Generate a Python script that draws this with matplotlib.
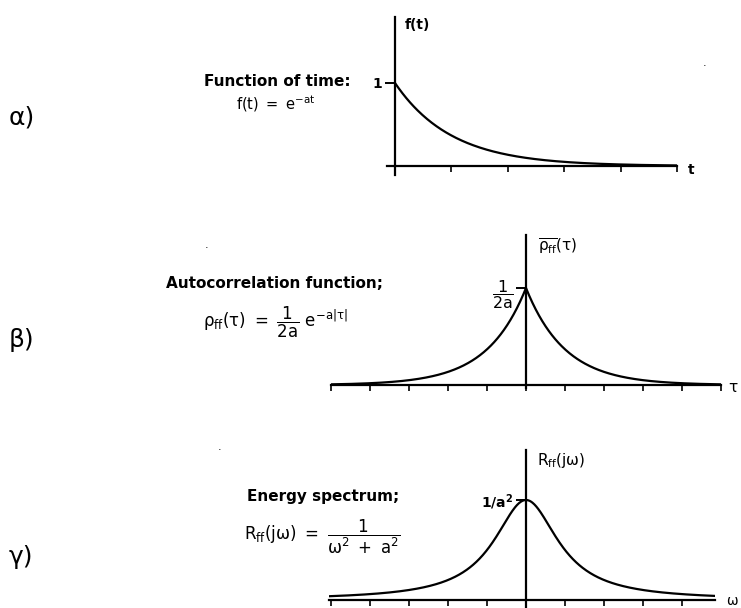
import numpy as np
import matplotlib.pyplot as plt

plt.rcParams['font.family'] = ['DejaVu Sans']
plt.rcParams['mathtext.fontset'] = 'dejavusans'
plt.rcParams['mathtext.default'] = 'regular'

W, H = 741, 608

# decay constant used in all three functions
a = 1.0

# time axis for f(t), lag axis for the autocorrelation, frequency axis for the spectrum
t = np.linspace(0, 5, 300)
tau = np.linspace(-5, 5, 601)
omega = np.linspace(-5.05, 4.85, 601)

f_t = np.exp(-a * t)
rho = np.exp(-a * np.abs(tau)) / (2 * a)
R = 1.0 / (omega ** 2 + a ** 2)

panel_letters = ['α)', 'β)', 'γ)']
x_names = ['t', 'τ', 'ω']
peak_labels = ['1', r'$\dfrac{1}{2a}$', r'$1/a^2$']
y_names = ['f(t)', r'$\overline{\rho_{ff}}(\tau)$', r'$R_{ff}(j\omega)$']

fig = plt.figure(figsize=(W / 100, H / 100), dpi=100)


def px(x, y):
    return x / W, 1 - y / H


def make_axes(origin, scale, xlim, ylim):
    # place an axes so that data (0, 0) sits at pixel `origin`
    ox, oy = origin
    sx, sy = scale
    x0 = ox + xlim[0] * sx
    x1 = ox + xlim[1] * sx
    y_top = oy - ylim[1] * sy
    y_bot = oy - ylim[0] * sy
    ax = fig.add_axes([x0 / W, 1 - y_bot / H, (x1 - x0) / W, (y_bot - y_top) / H])
    ax.set_xlim(xlim)
    ax.set_ylim(ylim)
    ax.patch.set_alpha(0)
    for side in ['top', 'right']:
        ax.spines[side].set_visible(False)
    ax.spines['left'].set_position(('data', 0))
    ax.spines['bottom'].set_position(('data', 0))
    for side in ['left', 'bottom']:
        ax.spines[side].set_linewidth(1.6)
    ax.tick_params(axis='x', direction='out', length=4.5, width=1.2, labelbottom=False)
    ax.tick_params(axis='y', direction='out', length=7, width=1.4, pad=2,
                   labelsize=10)
    return ax


ax1 = make_axes((395, 166), (56.4, 83), (-0.14, 5.0), (-0.11, 1.8))
ax1.plot(t, f_t, color='black', lw=1.6)
ax1.set_xticks(np.arange(0, 6))
ax1.set_yticks([1.0], [peak_labels[0]], fontweight='bold')

ax2 = make_axes((526, 385), (39, 194), (-5.0, 5.0), (-0.015, 0.775))
ax2.plot(tau, rho, color='black', lw=1.6)
ax2.set_xticks(np.arange(-5, 6))
ax2.set_yticks([rho.max()], [peak_labels[1]], fontsize=11.5)

ax3 = make_axes((526, 600), (39, 100), (-5.05, 4.85), (-0.15, 1.5))
ax3.plot(omega, R, color='black', lw=1.6)
ax3.set_xticks(np.arange(-5, 5))
ax3.set_yticks([R.max()], [peak_labels[2]], fontweight='bold')

# panel letters
for letter, y in zip(panel_letters, [117, 340, 557]):
    fig.text(*px(9, y), letter, fontsize=18, ha='left', va='center')

# axis names
fig.text(*px(405, 25), y_names[0], fontsize=10, fontweight='bold', va='center')
fig.text(*px(538, 247), y_names[1], fontsize=11, va='center')
fig.text(*px(537, 461), y_names[2], fontsize=11, va='center')
fig.text(*px(688, 170), x_names[0], fontsize=10, fontweight='bold', va='center')
fig.text(*px(728, 387), x_names[1], fontsize=11, va='center')
fig.text(*px(726, 601), x_names[2], fontsize=10, va='center')

# descriptions
fig.text(*px(277, 82), 'Function of time:', fontsize=11, fontweight='bold',
         ha='center', va='center')
fig.text(*px(276, 104), r'$f(t)\ =\ e^{-at}$', fontsize=10.5,
         ha='center', va='center')
fig.text(*px(275, 284), 'Autocorrelation function;', fontsize=11, fontweight='bold',
         ha='center', va='center')
fig.text(*px(275, 322), r'$\rho_{ff}(\tau)\ =\ \dfrac{1}{2a}\ e^{-a|\tau|}$',
         fontsize=12, ha='center', va='center')
fig.text(*px(323, 497), 'Energy spectrum;', fontsize=11, fontweight='bold',
         ha='center', va='center')
fig.text(*px(322, 537), r'$R_{ff}(j\omega)\ =\ \dfrac{1}{\omega^2\ +\ a^2}$',
         fontsize=12, ha='center', va='center')

# specks
for x, y in [(207, 250), (220, 452), (705, 68)]:
    fig.text(*px(x, y), '.', fontsize=8, ha='center', va='bottom')

fig.savefig('out.png', dpi=100)
